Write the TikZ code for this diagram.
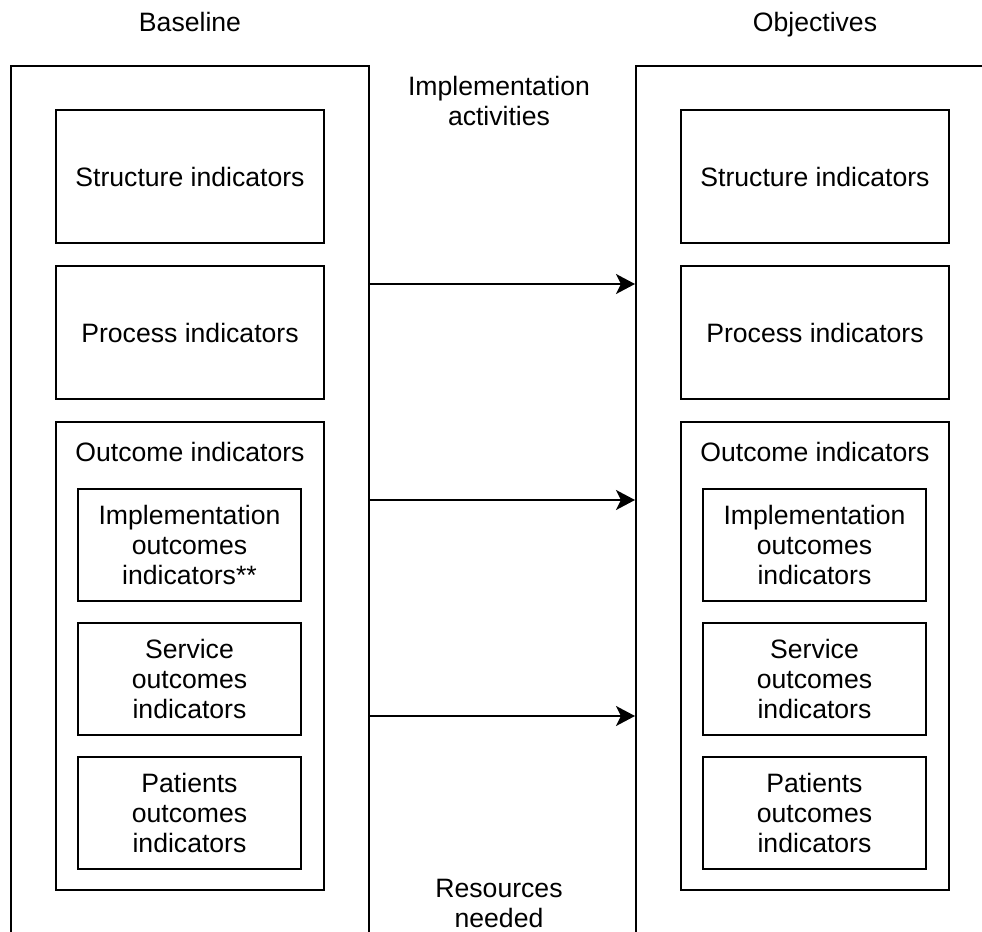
\documentclass[tikz,border=0pt]{standalone}
\usepackage{fontspec}
\setmainfont{Liberation Sans}
\usetikzlibrary{arrows.meta}
\tikzset{
  title/.style={anchor=base, inner sep=0pt},
  panel/.style={draw, line width=1pt, minimum width=179pt, minimum height=467pt, inner sep=0pt},
  bigbox/.style={draw, line width=1pt, minimum width=134pt, minimum height=66.5pt, inner sep=0pt, align=center},
  outbox/.style={draw, line width=1pt, minimum width=134pt, minimum height=234pt, inner sep=0pt},
  smallbox/.style={draw, line width=1pt, minimum width=111.5pt, minimum height=56pt, inner sep=0pt, align=center},
  arr/.style={line width=1pt, -{Stealth[length=9.5pt, width=10pt, inset=2.5pt]}}
}

\begin{document}
\begin{tikzpicture}[x=0.5pt, y=-0.5pt, font=\fontsize{13.3}{15}\selectfont]
				\useasboundingbox (0, 0) rectangle (982, 932);
				\clip (0, 0) rectangle (982, 932);
				
				% titles
				\node[title] (base) at (190, 31) {Baseline};
				\node[title] (obj) at (815, 31) {Objectives};
				\node[align=center] (act) at (499, 101) {Implementation\\activities};
				\node[align=center] (res) at (499, 903) {Resources\\needed};
				
				% baseline column
				\node[panel] (left) at (190, 533) {};
				\node[bigbox] (lstr) at (190, 176.5) {Structure indicators};
				\node[bigbox] (lproc) at (190, 332.5) {Process indicators};
				\node[outbox] (lout) at (190, 656) {};
				\node (louttxt) at (190, 452) {Outcome indicators};
				\node[smallbox] (limp) at (189.5, 545) {Implementation\\outcomes\\indicators**};
				\node[smallbox] (lserv) at (189.5, 679) {Service\\outcomes\\indicators};
				\node[smallbox] (lpat) at (189.5, 812.5) {Patients\\outcomes\\indicators};
				
				% objectives column
				\node[panel] (right) at (815, 533) {};
				\node[bigbox] (rstr) at (815, 176.5) {Structure indicators};
				\node[bigbox] (rproc) at (815, 332.5) {Process indicators};
				\node[outbox] (rout) at (815, 656) {};
				\node (routtxt) at (815, 452) {Outcome indicators};
				\node[smallbox] (rimp) at (814.5, 545) {Implementation\\outcomes\\indicators};
				\node[smallbox] (rserv) at (814.5, 679) {Service\\outcomes\\indicators};
				\node[smallbox] (rpat) at (814.5, 812.5) {Patients\\outcomes\\indicators};
				
				% arrows
				\coordinate (a1) at (500, 284);
				\coordinate (a2) at (500, 500);
				\coordinate (a3) at (500, 716);
				\draw[arr] (left.east |- a1) -- (right.west |- a1);
				\draw[arr] (left.east |- a2) -- (right.west |- a2);
				\draw[arr] (left.east |- a3) -- (right.west |- a3);
			\end{tikzpicture}
\end{document}
